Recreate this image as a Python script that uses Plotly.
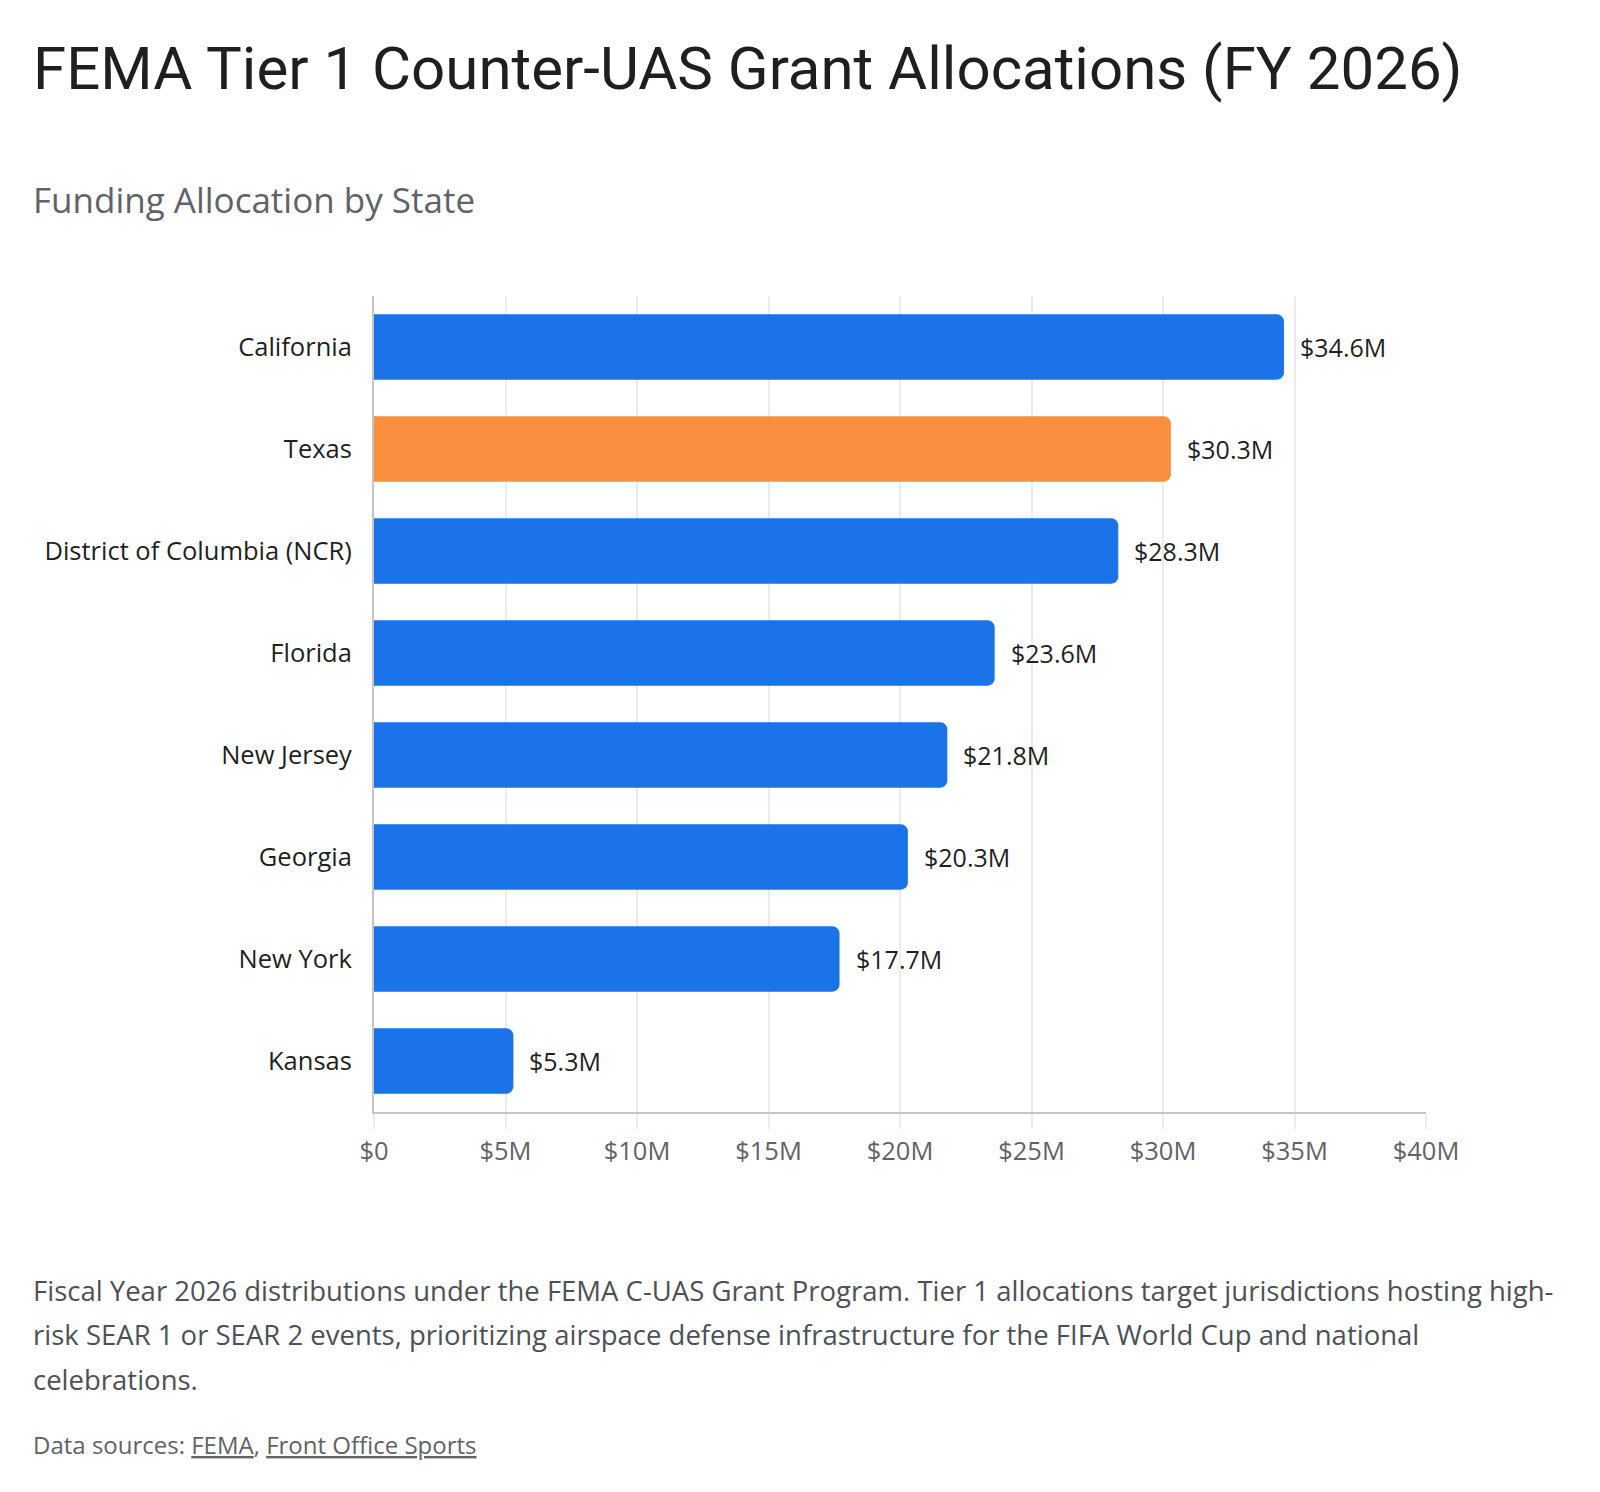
import plotly.graph_objects as go

states = ["California", "Texas", "District of Columbia (NCR)", "Florida",
          "New Jersey", "Georgia", "New York", "Kansas"]
funding_m = [34.6, 30.3, 28.3, 23.6, 21.8, 20.3, 17.7, 5.3]
highlight = "Texas"
tick_vals = [0, 5, 10, 15, 20, 25, 30, 35, 40]
tick_text = ["$0", "$5M", "$10M", "$15M", "$20M", "$25M", "$30M", "$35M", "$40M"]

W, H = 1600, 1492
L, R, T, B = 373.5, 1426.5, 296, 1112
TITLE_FONT = "Roboto, sans-serif"
FONT = "'Open Sans', Roboto, sans-serif"
BLUE = "#1A73E8"
ORANGE = "#FA903E"

def px(x):
    return (x - L) / (R - L)

def py(y):
    return (B - y) / (B - T)

colors = [ORANGE if s == highlight else BLUE for s in states]

fig = go.Figure(go.Bar(
    x=funding_m, y=states, orientation="h",
    marker=dict(color=colors, line=dict(width=0)),
    hoverinfo="skip",
))

annotations = []
for s, v in zip(states, funding_m):
    annotations.append(dict(
        x=v, y=s, xref="x", yref="y", text=f"${v}M", showarrow=False,
        xanchor="left", yanchor="middle", xshift=14,
        font=dict(family=FONT, size=25, color="#1f1f1f"),
    ))

def text(x, y, t, size, color, family=FONT):
    annotations.append(dict(
        x=px(x), y=py(y), xref="paper", yref="paper", text=t, showarrow=False,
        xanchor="left", yanchor="middle", align="left",
        font=dict(family=family, size=size, color=color),
    ))

text(30, 68, "FEMA Tier 1 Counter-UAS Grant Allocations (FY 2026)", 60, "#1f1f1f", TITLE_FONT)
text(30, 199, "Funding Allocation by State", 35, "#5f6368")
text(30, 1290, "Fiscal Year 2026 distributions under the FEMA C-UAS Grant Program. Tier 1 allocations target jurisdictions hosting high-", 27.5, "#4d5156")
text(30, 1334, "risk SEAR 1 or SEAR 2 events, prioritizing airspace defense infrastructure for the FIFA World Cup and national", 27.5, "#4d5156")
text(30, 1379, "celebrations.", 27.5, "#4d5156")
text(30, 1444, "Data sources: <span style='text-decoration:underline'>FEMA</span>, <span style='text-decoration:underline'>Front Office Sports</span>", 24, "#5f6368")

fig.update_layout(
    width=W, height=H,
    margin=dict(l=L, r=W - R, t=T, b=H - B, pad=0),
    paper_bgcolor="white", plot_bgcolor="white",
    bargap=0.36, barcornerradius=7,
    showlegend=False,
    font=dict(family=FONT),
    annotations=annotations,
    xaxis=dict(
        range=[0, 40], tickvals=tick_vals, ticktext=tick_text,
        showgrid=True, gridcolor="#ebebeb", gridwidth=1.5,
        showline=True, linecolor="#c4c4c4", linewidth=2,
        zeroline=False, ticks="outside", ticklen=15, tickcolor="#ebebeb", tickwidth=1.5,
        tickfont=dict(family=FONT, size=25.5, color="#5f6368"),
        ticklabelstandoff=0, fixedrange=True,
    ),
    yaxis=dict(
        autorange="reversed", showgrid=False,
        showline=True, linecolor="#c4c4c4", linewidth=2,
        ticks="", ticklabelstandoff=15,
        tickfont=dict(family=FONT, size=25.5, color="#1f1f1f"),
        fixedrange=True,
    ),
)

fig.write_html("out.html", config={"displayModeBar": False})
